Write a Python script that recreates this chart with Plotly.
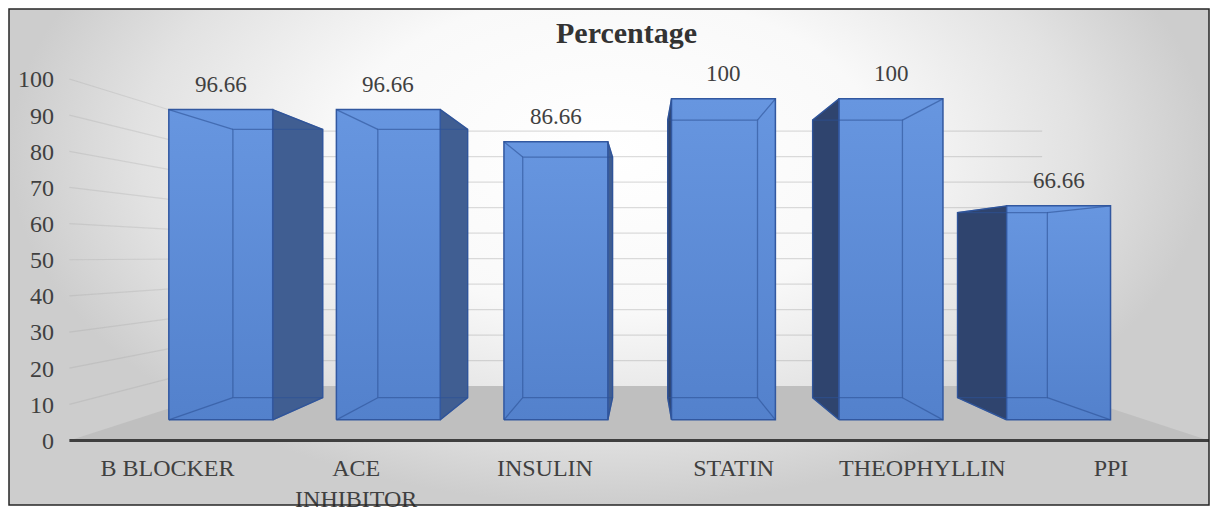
import plotly.graph_objects as go

# ---- data -------------------------------------------------------------
categories = ["B BLOCKER", "ACE<br>INHIBITOR", "INSULIN", "STATIN", "THEOPHYLLIN", "PPI"]
percentages = [96.66, 96.66, 86.66, 100, 100, 66.66]
value_labels = ["96.66", "96.66", "86.66", "100", "100", "66.66"]
y_ticks = [0, 10, 20, 30, 40, 50, 60, 70, 80, 90, 100]
chart_title = "Percentage"

# ---- page geometry (pixels) ------------------------------------------
W, H = 1218, 513
BOX_L, BOX_R, BOX_T, BOX_B = 9, 1209, 9, 505      # framed chart area
CAT0_PX, CAT_STEP_PX = 167.5, 188.7               # front-plane category centres
ZERO_PX, UNIT_PX = 440.5, 3.615                   # front-plane value scale
VP_PX = (643, 256)                                # vanishing point of the 3-D view

# depth scales (1 = front edge of the floor)
S_BAR_FRONT, S_BAR_BACK, S_WALL = 0.888, 0.768, 0.705
BAR_HALF = 0.31                                   # half bar width in category units
FLOOR_L, FLOOR_R = -0.52, 5.52                    # floor extent in category units

FONT = "Liberation Serif"
TEXT_COLOR = "#404040"


def px_x(px):
    return (px - CAT0_PX) / CAT_STEP_PX


def px_y(py):
    return (ZERO_PX - py) / UNIT_PX


VP_I, VP_V = px_x(VP_PX[0]), px_y(VP_PX[1])


def project(i, v, s):
    """Point (category position, value) seen at depth scale s."""
    return VP_I + s * (i - VP_I), VP_V + s * (v - VP_V)


def poly(points):
    xs = [p[0] for p in points] + [points[0][0]]
    ys = [p[1] for p in points] + [points[0][1]]
    return xs, ys


fig = go.Figure()

# ---- background with soft radial shading ------------------------------
bx, by = poly([(px_x(BOX_L), px_y(-200)), (px_x(BOX_R), px_y(-200)),
               (px_x(BOX_R), px_y(BOX_B)), (px_x(BOX_L), px_y(BOX_B))])
fig.add_trace(go.Scatter(
    x=bx, y=by, mode="lines", line=dict(width=0), fill="toself",
    fillgradient=dict(type="radial",
                      colorscale=[[0, "#ffffff"], [0.45, "#f9f9f9"],
                                  [0.78, "#e2e2e2"], [1, "#cdcdcd"]]),
    hoverinfo="skip", showlegend=False))

# ---- floor ---------------------------------------------------------------
floor = [project(FLOOR_L, 0, 1), project(FLOOR_R, 0, 1),
         project(FLOOR_R, 0, S_WALL), project(FLOOR_L, 0, S_WALL)]
fx, fy = poly(floor)
fig.add_trace(go.Scatter(x=fx, y=fy, mode="lines", line=dict(width=0),
                         fill="toself", fillcolor="#bfbfbf",
                         hoverinfo="skip", showlegend=False))

# ---- gridlines on side wall and back wall ---------------------------------
sx_, sy_, wx, wy = [], [], [], []
for v in y_ticks[1:]:
    a, b, c = (project(FLOOR_L, v, 1), project(FLOOR_L, v, S_WALL),
               project(FLOOR_R, v, S_WALL))
    sx_ += [a[0], b[0], None]
    sy_ += [a[1], b[1], None]
    wx += [b[0], c[0], None]
    wy += [b[1], c[1], None]
fig.add_trace(go.Scatter(x=sx_, y=sy_, mode="lines",
                         line=dict(color="rgba(150,150,150,0.22)", width=1.2),
                         hoverinfo="skip", showlegend=False))
fig.add_trace(go.Scatter(x=wx, y=wy, mode="lines",
                         line=dict(color="rgba(150,150,150,0.32)", width=1.2),
                         hoverinfo="skip", showlegend=False))

# ---- bars ---------------------------------------------------------------
FRONT_FILL = [[0, "#5381cc"], [1, "#6796e0"]]
EDGE = "rgb(50,88,160)"
for k, val in enumerate(percentages):
    l, r = k - BAR_HALF, k + BAR_HALF
    fl, fr = project(l, 0, S_BAR_FRONT), project(r, 0, S_BAR_FRONT)
    tl, tr = project(l, val, S_BAR_FRONT), project(r, val, S_BAR_FRONT)
    bl, br = project(l, 0, S_BAR_BACK), project(r, 0, S_BAR_BACK)
    btl, btr = project(l, val, S_BAR_BACK), project(r, val, S_BAR_BACK)

    # visible side face (the one turned toward the vanishing point)
    if fr[0] < VP_I:
        side, side_col = [fr, tr, btr, br], "rgb(64,94,146)"
    elif fl[0] > VP_I:
        side, side_col = [fl, tl, btl, bl], "rgb(47,68,110)"
    else:
        side = None
    if side:
        sx, sy = poly(side)
        fig.add_trace(go.Scatter(x=sx, y=sy, mode="lines",
                                 line=dict(color=EDGE, width=1.2),
                                 fill="toself", fillcolor=side_col,
                                 hoverinfo="skip", showlegend=False))

    # front face
    qx, qy = poly([fl, fr, tr, tl])
    fig.add_trace(go.Scatter(
        x=qx, y=qy, mode="lines", line=dict(color=EDGE, width=1.5),
        fill="toself",
        fillgradient=dict(type="vertical", colorscale=FRONT_FILL,
                          start=fl[1], stop=tl[1]),
        hoverinfo="skip", showlegend=False))

    # edges of the back of the box, seen through the front face
    ex, ey = poly([bl, br, btr, btl])
    for a, b in ((fl, bl), (fr, br), (tl, btl), (tr, btr)):
        ex += [None, a[0], b[0]]
        ey += [None, a[1], b[1]]
    fig.add_trace(go.Scatter(x=ex, y=ey, mode="lines",
                             line=dict(color="rgba(45,82,150,0.6)", width=1.3),
                             hoverinfo="skip", showlegend=False))

    # value label above the bar
    lx, ly = project(k, val, S_BAR_FRONT)
    fig.add_annotation(x=lx, y=ly, text=value_labels[k], showarrow=False,
                       yanchor="middle", yshift=25,
                       font=dict(family=FONT, size=23, color=TEXT_COLOR))

# ---- front edge of the floor (category axis line) -------------------------
fig.add_trace(go.Scatter(x=[FLOOR_L, FLOOR_R], y=[0, 0], mode="lines",
                         line=dict(color="#3f3f3f", width=3),
                         hoverinfo="skip", showlegend=False))

fig.update_layout(
    width=W, height=H,
    margin=dict(l=0, r=0, t=0, b=0),
    paper_bgcolor="white", plot_bgcolor="rgba(0,0,0,0)",
    showlegend=False,
    xaxis=dict(
        domain=[BOX_L / W, BOX_R / W],
        range=[px_x(BOX_L), px_x(BOX_R)],
        anchor="free", position=1 - ZERO_PX / H,
        tickmode="array", tickvals=list(range(len(categories))),
        ticktext=categories, ticks="", ticklabelstandoff=10,
        showgrid=False, zeroline=False, showline=False,
        tickfont=dict(family=FONT, size=24, color=TEXT_COLOR),
        fixedrange=True),
    yaxis=dict(
        domain=[1 - BOX_B / H, 1 - BOX_T / H],
        range=[px_y(BOX_B), px_y(BOX_T)],
        anchor="free", position=68 / W,
        tickmode="array", tickvals=y_ticks, ticks="", ticklabelstandoff=14,
        showgrid=False, zeroline=False, showline=False,
        tickfont=dict(family=FONT, size=24, color=TEXT_COLOR),
        fixedrange=True),
    shapes=[dict(type="rect", xref="paper", yref="paper",
                 x0=BOX_L / W, x1=BOX_R / W, y0=1 - BOX_B / H, y1=1 - BOX_T / H,
                 line=dict(color="#262626", width=1.5), layer="above")],
)

fig.add_annotation(xref="paper", yref="paper", x=626 / W, y=1 - 32 / H,
                   text="<b>%s</b>" % chart_title, showarrow=False,
                   xanchor="center", yanchor="middle",
                   font=dict(family=FONT, size=30, color="#333333"))

fig.write_html("out.html")
